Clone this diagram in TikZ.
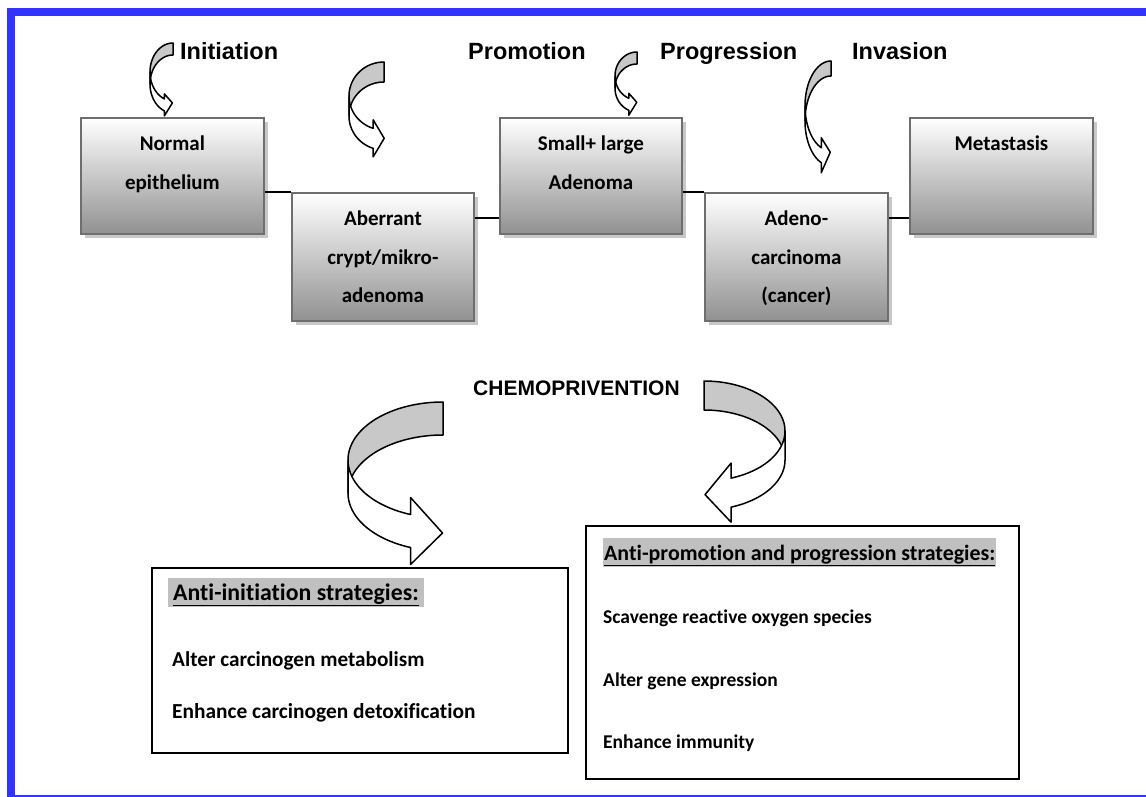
\documentclass[tikz,border=0pt]{standalone}
\usepackage{fontspec}
\newfontfamily\arialf{Liberation Sans}
\newfontfamily\calf{Carlito}[Ligatures={NoCommon}]
\usetikzlibrary{shadows,calc}
\definecolor{bordblue}{HTML}{3333FF}
\definecolor{boxedge}{HTML}{6E6E6E}
\definecolor{boxbot}{HTML}{919191}
\definecolor{shadowgray}{HTML}{C8C8C8}
\definecolor{ribgray}{HTML}{C8C8C8}
\definecolor{hlgray}{HTML}{C0C0C0}
\newcommand{\ribbonarrow}[9]{%
  \pgfmathsetmacro\rxe{#1+#3*cos(#6)}%
  \pgfmathsetmacro\ryea{#2-#4*sin(#6)}%
  \pgfmathsetmacro\ryeb{\ryea+#5}%
  \pgfmathsetmacro\rym{\ryea+#5/2+#9}%
  \filldraw[ribbonback] plot[domain=90:180,samples=40] ({#1+#3*cos(\x)},{#2-#4*sin(\x)})
     -- plot[domain=180:90,samples=40] ({#1+#3*cos(\x)},{#2-#4*sin(\x)+#5}) -- cycle;
  \filldraw[ribbonfront] plot[domain=180:#6,samples=40] ({#1+#3*cos(\x)},{#2-#4*sin(\x)})
     -- (\rxe,\ryea-#7) -- (\rxe+#8,\rym) -- (\rxe,\ryeb+#7) -- (\rxe,\ryeb)
     -- plot[domain=#6:180,samples=40] ({#1+#3*cos(\x)},{#2-#4*sin(\x)+#5}) -- cycle;
}
\begin{document}
\begin{tikzpicture}[x=1pt,y=-1pt,
  procbox/.style={draw=boxedge, line width=1.8pt, top color=white, bottom color=boxbot,
    minimum width=183pt, minimum height=116pt, anchor=north west, inner sep=0pt,
    general shadow={fill=shadowgray, shadow xshift=4pt, shadow yshift=-4pt}},
  boxtext/.style={anchor=north, inner sep=0pt, align=center,
    font=\calf\bfseries\fontsize{21}{38.5}\selectfont},
  stagelabel/.style={anchor=base west, inner sep=0pt, font=\arialf\bfseries\fontsize{23.5}{28}\selectfont},
  stratbox/.style={draw=black, line width=1.8pt, fill=white, anchor=north west, inner sep=0pt},
  headhl/.style={anchor=base west, fill=hlgray, inner ysep=0pt, text height=22pt, text depth=7pt},
  itemtext/.style={anchor=base west, inner sep=0pt},
  link/.style={draw=black, line width=1.5pt},
  ribbonback/.style={fill=ribgray, draw=black, line width=1.5pt, line join=round},
  ribbonfront/.style={fill=white, draw=black, line width=1.5pt, line join=round}
]
\useasboundingbox (0,0) rectangle (1146,797);
\fill[white] (0,0) rectangle (1146,797);
% blue frame
\fill[bordblue] (7,8) rectangle (1146,16);
\fill[bordblue] (7,8) rectangle (15,797);
\fill[bordblue] (7,795) rectangle (1146,797);

% stage boxes
\node[procbox] (n1) at (80,117) {};
\node[procbox, minimum width=182pt, minimum height=128pt] (n2) at (291,192) {};
\node[procbox, minimum width=182pt] (n3) at (499,117) {};
\node[procbox, minimum height=128pt] (n4) at (704,192) {};
\node[procbox] (n5) at (909,117) {};

\node[boxtext] (t1) at ($(n1.north)+(0,19)$) {Normal\\epithelium};
\node[boxtext] (t2) at ($(n2.north)+(0,19)$) {Aberrant\\crypt/mikro-\\adenoma};
\node[boxtext] (t3) at ($(n3.north)+(0,19)$) {Small+ large\\Adenoma};
\node[boxtext] (t4) at ($(n4.north)+(0,19)$) {Adeno-\\carcinoma\\(cancer)};
\node[boxtext] (t5) at ($(n5.north)+(0,19)$) {Metastasis};

% connectors
\draw[link] (n1.east |- n2.north west) -- (n2.north west);
\coordinate (c23) at ([yshift=-26pt]n2.north east);
\draw[link] (c23) -- (n3.west |- c23);
\draw[link] (n3.east |- n4.north west) -- (n4.north west);
\coordinate (c45) at ([yshift=-26pt]n4.north east);
\draw[link] (c45) -- (n5.west |- c45);

% stage labels
\node[stagelabel] (l1) at (180,60) {Initiation};
\node[stagelabel] (l2) at (468,60) {Promotion};
\node[stagelabel] (l3) at (660,60) {Progression};
\node[stagelabel] (l4) at (852,60) {Invasion};

% small curved arrows
\ribbonarrow{173}{72}{23}{29}{12}{248}{5}{8}{-2}
\ribbonarrow{384}{96}{35}{34}{20}{252}{8.5}{11}{0}
\ribbonarrow{637}{76}{22}{24}{12}{248}{5}{8}{-2}
\ribbonarrow{831}{106}{26}{45}{15}{248}{10}{9}{-3}

% chemoprevention
\node[anchor=base west, inner sep=0pt, font=\arialf\bfseries\fontsize{21}{26}\selectfont] (chemo) at (473,395) {CHEMOPRIVENTION};
\ribbonarrow{443}{460}{95}{58}{33}{250}{17}{32}{2}
\begin{scope}[xscale=-1]
\ribbonarrow{-704}{431}{81}{50}{29}{250.5}{15}{26}{2}
\end{scope}

% strategy boxes
\node[stratbox, minimum width=416pt, minimum height=185pt] (sL) at (151,567) {};
\node[stratbox, minimum width=433pt, minimum height=253pt] (sR) at (585,525) {};

\node[headhl, inner xsep=5pt, font=\calf\bfseries\fontsize{23.8}{28}\selectfont] (hL) at (168,600) {\underline{Anti-initiation strategies:}};
\node[itemtext, font=\calf\bfseries\fontsize{21.2}{26}\selectfont] (iL1) at (172,666) {Alter carcinogen metabolism};
\node[itemtext, font=\calf\bfseries\fontsize{21.4}{26}\selectfont] (iL2) at (172,718) {Enhance carcinogen detoxification};

\node[headhl, inner xsep=1pt, font=\calf\bfseries\fontsize{21.9}{26}\selectfont] (hR) at (603,560) {\underline{Anti-promotion and progression strategies:}};
\node[itemtext, font=\calf\bfseries\fontsize{19.5}{24}\selectfont] (iR1) at (603,623) {Scavenge reactive oxygen species};
\node[itemtext, font=\calf\bfseries\fontsize{19.5}{24}\selectfont] (iR2) at (603,686) {Alter gene expression};
\node[itemtext, font=\calf\bfseries\fontsize{19.5}{24}\selectfont] (iR3) at (603,748) {Enhance immunity};
\end{tikzpicture}
\end{document}
